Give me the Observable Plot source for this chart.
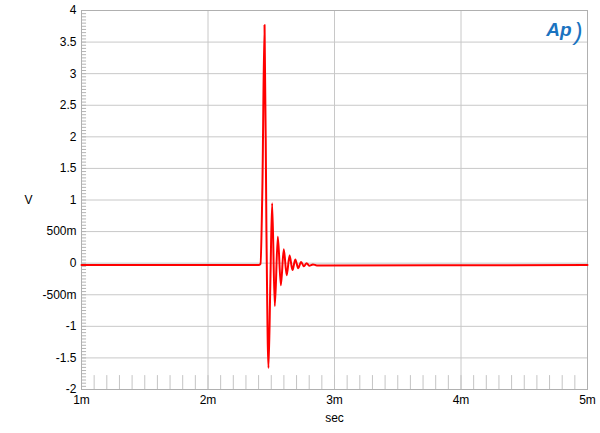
<!DOCTYPE html>
<html>
<head>
<meta charset="utf-8">
<script src="https://cdn.jsdelivr.net/npm/d3@7"></script>
<script src="https://cdn.jsdelivr.net/npm/@observablehq/plot@0.6"></script>
<style>
  body { margin: 0; background: #fff; }
  #chart { width: 600px; height: 433px; }
</style>
</head>
<body>
<div id="chart"></div>
<script>
// time in ms (axis labelled with "m" suffix), voltage in V
const timeMs = [1.0, 2.40, 2.415, 2.43, 2.447, 2.462, 2.478, 2.493, 2.507, 2.528, 2.552, 2.576, 2.599, 2.622, 2.645, 2.668, 2.69, 2.713, 2.736, 2.758, 2.78, 2.80, 2.83, 2.86, 5.0];
const volts  = [-0.03, -0.03, -0.01, 1.2, 3.77, 0.5, -1.66, -0.3, 0.95, -0.68, 0.42, -0.35, 0.22, -0.19, 0.12, -0.11, 0.06, -0.08, 0.02, -0.05, 0.0, -0.04, -0.02, -0.035, -0.03];

const xTicks = [1, 2, 3, 4, 5];
const yTicks = [4, 3.5, 3, 2.5, 2, 1.5, 1, 0.5, 0, -0.5, -1, -1.5, -2];
const xMinor = d3.range(11, 50).map(d => d / 10);
const yMinor = d3.range(-39, 80).map(d => d / 20);

const data = timeMs.map((t, i) => ({t, v: volts[i]}));

const fmtY = d => d === 0 ? "0" : (Math.abs(d) < 1 ? String(Math.round(d * 1000)) + "m" : String(d));

const chart = Plot.plot({
  width: 600,
  height: 433,
  marginLeft: 81,
  marginRight: 13,
  marginTop: 10,
  marginBottom: 44,
  style: {fontFamily: "'Liberation Sans', Arial, sans-serif", fontSize: "12px", color: "#000", background: "#fff"},
  x: {domain: [1, 5]},
  y: {domain: [-2, 4]},
  marks: [
    Plot.gridY(yTicks.filter(d => d !== 4 && d !== -2), {stroke: "#c8c8c8", strokeOpacity: 1}),
    Plot.gridX([2, 3, 4], {stroke: "#c8c8c8", strokeOpacity: 1}),
    Plot.ruleX(xMinor, {y1: -2, y2: -1.78, stroke: "#c4c4c4", strokeWidth: 1}),
    Plot.ruleY(yMinor, {x1: 1, x2: 1.04, stroke: "#b4b4b4", strokeWidth: 1}),
    Plot.frame({stroke: "#b0b0b0"}),
    Plot.axisX(xTicks, {tickSize: 0, tickPadding: 6, tickFormat: d => d + "m", label: null, fill: "#000"}),
    Plot.axisY(yTicks, {tickSize: 0, tickPadding: 5, tickFormat: fmtY, label: null, fill: "#000"}),
    Plot.text(["V"], {frameAnchor: "left", dx: -57, fill: "#000", fontSize: 12}),
    Plot.text(["sec"], {frameAnchor: "bottom", dy: 32, fill: "#000", fontSize: 12}),
    Plot.text(["Ap"], {frameAnchor: "top-right", dx: -16, dy: 12, fill: "#1a73c0", fontSize: 19, fontStyle: "italic", fontWeight: "bold", fontFamily: "'Liberation Sans', Arial, sans-serif"}),
    Plot.text([")"], {frameAnchor: "top-right", dx: -5, dy: 12, fill: "#1a73c0", fontSize: 24, fontStyle: "italic", fontFamily: "'Liberation Sans', Arial, sans-serif"}),
    Plot.line(data, {x: "t", y: "v", stroke: "#ff0000", strokeWidth: 2, curve: "monotone-x"})
  ]
});
document.getElementById("chart").appendChild(chart);
</script>
</body>
</html>
